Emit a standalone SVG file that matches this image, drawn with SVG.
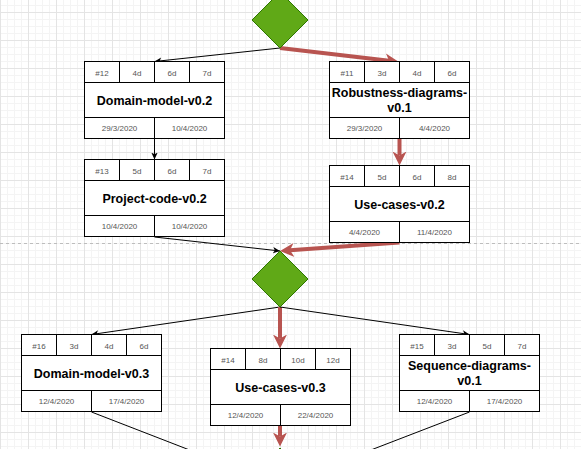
<svg xmlns="http://www.w3.org/2000/svg" width="581" height="449" viewBox="0 0 581 449">
<style>
.cell{fill:#fff;stroke:#000;stroke-width:1}
.ln{stroke:#000;stroke-width:1;fill:none}
.h{font-family:"Liberation Sans",Arial,sans-serif;font-size:8px;fill:#555;text-anchor:middle}
.t{font-family:"Liberation Sans",Arial,sans-serif;font-size:12.5px;font-weight:bold;fill:#000;text-anchor:middle}
.blk{stroke:#000;stroke-width:1;fill:none}
.red{stroke:#b85450;stroke-width:4;fill:none}
.dia{fill:#60a917;stroke:#2d7600;stroke-width:1}
</style>
<defs>
<pattern id="gmin" width="7" height="7" x="0" y="5" patternUnits="userSpaceOnUse"><path d="M0.5,0V7M0,0.5H7" stroke="#f4f4f4" stroke-width="1" fill="none"/></pattern>
<pattern id="gmaj" width="28" height="28" x="0" y="12" patternUnits="userSpaceOnUse"><path d="M0.5,0V28M0,0.5H28" stroke="#e4e4e4" stroke-width="1" fill="none"/></pattern>
<marker id="ab" markerWidth="8" markerHeight="8" refX="7" refY="4" orient="auto" markerUnits="userSpaceOnUse"><path d="M0,0.8L7,4L0,7.2L1.8,4Z" fill="#000"/></marker>
<marker id="ar" markerWidth="15" markerHeight="15" refX="4" refY="7" orient="auto" markerUnits="userSpaceOnUse"><path d="M0,0L14,7L0,14L4,7Z" fill="#b85450"/></marker>
</defs>
<rect width="581" height="449" fill="#fff"/>
<rect width="581" height="449" fill="url(#gmin)"/>
<rect width="581" height="449" fill="url(#gmaj)"/>
<line x1="0" y1="243.5" x2="581" y2="243.5" stroke="#bdbdbd" stroke-width="1" stroke-dasharray="3 3"/>

<g id="connectors">
<line class="blk" x1="280" y1="48" x2="154.5" y2="61.5" marker-end="url(#ab)"/>
<line class="red" x1="280" y1="48" x2="389.1" y2="60.8" marker-end="url(#ar)"/>
<line class="blk" x1="154.5" y1="138.5" x2="154.5" y2="159.5" marker-end="url(#ab)"/>
<line class="red" x1="399.5" y1="138.5" x2="399.5" y2="155.5" marker-end="url(#ar)"/>
<line class="blk" x1="154.5" y1="237" x2="280" y2="251" marker-end="url(#ab)"/>
<line class="red" x1="399.5" y1="242.5" x2="290" y2="250.3" marker-end="url(#ar)"/>
<line class="blk" x1="280" y1="307" x2="91.5" y2="334.5" marker-end="url(#ab)"/>
<line class="red" x1="280" y1="307" x2="280" y2="338.5" marker-end="url(#ar)"/>
<line class="blk" x1="280" y1="307" x2="469.5" y2="334.5" marker-end="url(#ab)"/>
<line class="red" x1="280" y1="426" x2="280" y2="436.5" marker-end="url(#ar)"/>
<line class="blk" x1="91.5" y1="412" x2="280" y2="485"/>
<line class="blk" x1="469.5" y1="412" x2="280" y2="485"/>
</g>

<g id="d1"><polygon class="dia" points="280,-8 308,20 280,48 252,20"/></g>
<g id="d2"><polygon class="dia" points="280,251 308,279 280,307 252,279"/></g>
<g id="d3"><polygon class="dia" points="280,448 308,476 280,504 252,476"/></g>

<g id="n12" transform="translate(84.5,61.5)">
<rect class="cell" width="140" height="77"/>
<path class="ln" d="M0,21H140M0,56H140M35,0V21M70,0V21M105,0V21M70,56V77"/>
<text class="h" x="17.5" y="14">#12</text><text class="h" x="52.5" y="14">4d</text><text class="h" x="87.5" y="14">6d</text><text class="h" x="122.5" y="14">7d</text>
<text class="t" x="70" y="43">Domain-model-v0.2</text>
<text class="h" x="35" y="69.5">29/3/2020</text><text class="h" x="105" y="69.5">10/4/2020</text>
</g>

<g id="n11" transform="translate(329.5,61.5)">
<rect class="cell" width="140" height="77"/>
<path class="ln" d="M0,21H140M0,56H140M35,0V21M70,0V21M105,0V21M70,56V77"/>
<text class="h" x="17.5" y="14">#11</text><text class="h" x="52.5" y="14">3d</text><text class="h" x="87.5" y="14">4d</text><text class="h" x="122.5" y="14">6d</text>
<text class="t" x="70" y="35.5">Robustness-diagrams-</text>
<text class="t" x="70" y="50.5">v0.1</text>
<text class="h" x="35" y="69.5">29/3/2020</text><text class="h" x="105" y="69.5">4/4/2020</text>
</g>

<g id="n13" transform="translate(84.5,159.5)">
<rect class="cell" width="140" height="77"/>
<path class="ln" d="M0,21H140M0,56H140M35,0V21M70,0V21M105,0V21M70,56V77"/>
<text class="h" x="17.5" y="14">#13</text><text class="h" x="52.5" y="14">5d</text><text class="h" x="87.5" y="14">6d</text><text class="h" x="122.5" y="14">7d</text>
<text class="t" x="70" y="43">Project-code-v0.2</text>
<text class="h" x="35" y="69.5">10/4/2020</text><text class="h" x="105" y="69.5">10/4/2020</text>
</g>

<g id="n14" transform="translate(329.5,165.5)">
<rect class="cell" width="140" height="77"/>
<path class="ln" d="M0,21H140M0,56H140M35,0V21M70,0V21M105,0V21M70,56V77"/>
<text class="h" x="17.5" y="14">#14</text><text class="h" x="52.5" y="14">5d</text><text class="h" x="87.5" y="14">6d</text><text class="h" x="122.5" y="14">8d</text>
<text class="t" x="70" y="43">Use-cases-v0.2</text>
<text class="h" x="35" y="69.5">4/4/2020</text><text class="h" x="105" y="69.5">11/4/2020</text>
</g>

<g id="n16" transform="translate(21.5,334.5)">
<rect class="cell" width="140" height="77"/>
<path class="ln" d="M0,21H140M0,56H140M35,0V21M70,0V21M105,0V21M70,56V77"/>
<text class="h" x="17.5" y="14">#16</text><text class="h" x="52.5" y="14">3d</text><text class="h" x="87.5" y="14">4d</text><text class="h" x="122.5" y="14">6d</text>
<text class="t" x="70" y="43">Domain-model-v0.3</text>
<text class="h" x="35" y="69.5">12/4/2020</text><text class="h" x="105" y="69.5">17/4/2020</text>
</g>

<g id="n14b" transform="translate(210.5,348.5)">
<rect class="cell" width="140" height="77"/>
<path class="ln" d="M0,21H140M0,56H140M35,0V21M70,0V21M105,0V21M70,56V77"/>
<text class="h" x="17.5" y="14">#14</text><text class="h" x="52.5" y="14">8d</text><text class="h" x="87.5" y="14">10d</text><text class="h" x="122.5" y="14">12d</text>
<text class="t" x="70" y="43">Use-cases-v0.3</text>
<text class="h" x="35" y="69.5">12/4/2020</text><text class="h" x="105" y="69.5">22/4/2020</text>
</g>

<g id="n15" transform="translate(399.5,334.5)">
<rect class="cell" width="140" height="77"/>
<path class="ln" d="M0,21H140M0,56H140M35,0V21M70,0V21M105,0V21M70,56V77"/>
<text class="h" x="17.5" y="14">#15</text><text class="h" x="52.5" y="14">3d</text><text class="h" x="87.5" y="14">5d</text><text class="h" x="122.5" y="14">7d</text>
<text class="t" x="70" y="35.5">Sequence-diagrams-</text>
<text class="t" x="70" y="50.5">v0.1</text>
<text class="h" x="35" y="69.5">12/4/2020</text><text class="h" x="105" y="69.5">17/4/2020</text>
</g>
</svg>
